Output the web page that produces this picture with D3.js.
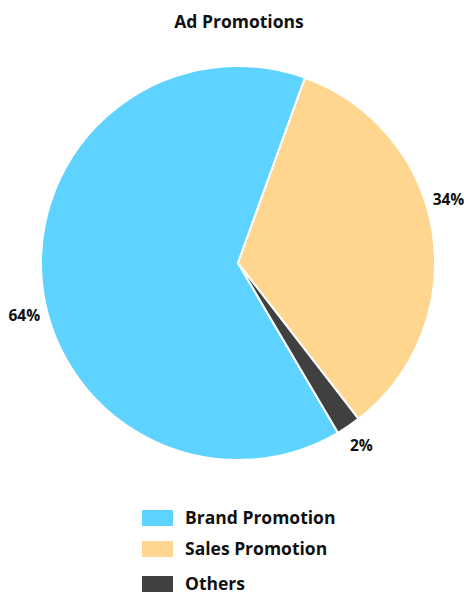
<!DOCTYPE html>
<html>
<head>
<meta charset="utf-8">
<script src="https://cdn.jsdelivr.net/npm/d3@7"></script>
<style>
    body { margin: 0; background: #fff; }
    text { font-family: "Open Sans", Lato, sans-serif; font-weight: bold; fill: #111; }
</style>
</head>
<body>
<div id="chart"></div>
<script>
const categories = ["Brand Promotion", "Sales Promotion", "Others"];
const shares = [64, 34, 2];
const labels = ["64%", "34%", "2%"];
const colors = ["#5fd3ff", "#ffd68f", "#404040"];

const width = 464;
const height = 594;
const radius = 197;
const cx = 238, cy = 263;

const svg = d3.select("#chart")
    .append("svg")
    .attr("width", width)
    .attr("height", height);

svg.append("text")
    .attr("x", 239)
    .attr("y", 28)
    .attr("text-anchor", "middle")
    .style("font-size", "17.5px")
    .text("Ad Promotions");

const g = svg.append("g")
    .attr("transform", `translate(${cx},${cy})`);

// brand slice starts at ~150deg and wraps round to ~18deg
const start = 149.5 * Math.PI / 180;
const pie = d3.pie()
    .sort(null)
    .value(d => d)
    .startAngle(start)
    .endAngle(start + 2 * Math.PI);

const arc = d3.arc()
    .innerRadius(0)
    .outerRadius(radius);

const slices = pie(shares);

g.selectAll("path")
    .data(slices)
    .enter()
    .append("path")
    .attr("d", arc)
    .attr("fill", (d, i) => colors[i])
    .attr("stroke", "#fff")
    .attr("stroke-width", 2)
    .attr("stroke-linejoin", "round");

// labels sit just outside the rim, nudged a little like the original
const labelShift = [-8.5, -8, 0];
const labelR = 220;
g.selectAll(".lbl")
    .data(slices)
    .enter()
    .append("text")
    .attr("class", "lbl")
    .attr("text-anchor", "middle")
    .attr("dy", "0.36em")
    .style("font-size", "15.5px")
    .attr("x", (d, i) => {
        const a = (d.startAngle + d.endAngle) / 2 + labelShift[i] * Math.PI / 180;
        return Math.sin(a) * labelR;
    })
    .attr("y", (d, i) => {
        const a = (d.startAngle + d.endAngle) / 2 + labelShift[i] * Math.PI / 180;
        return -Math.cos(a) * labelR;
    })
    .text((d, i) => labels[i]);

// legend
const legendY = [518, 549, 584];
const legend = svg.append("g");
categories.forEach((c, i) => {
    legend.append("rect")
        .attr("x", 142)
        .attr("y", legendY[i] - 8)
        .attr("width", 31)
        .attr("height", 16)
        .attr("fill", colors[i]);
    legend.append("text")
        .attr("x", 185)
        .attr("y", legendY[i])
        .attr("dy", "0.34em")
        .style("font-size", "17.5px")
        .text(c);
});
</script>
</body>
</html>
